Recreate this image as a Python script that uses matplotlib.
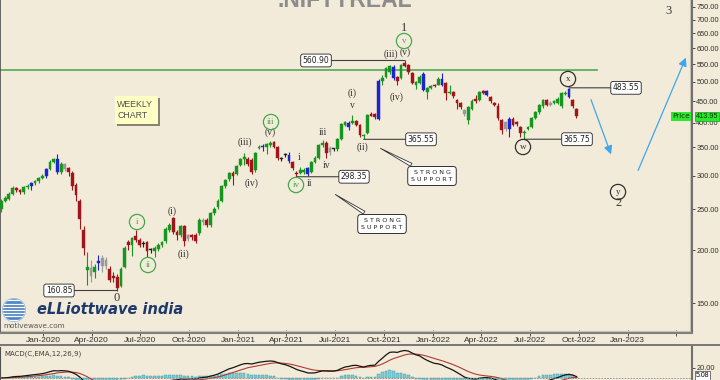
import matplotlib
matplotlib.use("Agg")
import matplotlib.pyplot as plt
import matplotlib.patches as mpatches
import numpy as np
import pandas as pd

# weekly candles of .NIFTYREAL, mid Oct 2019 .. late Sep 2022
start_week = "2019-10-15"
opens = [250, 262, 265, 272, 280, 277, 274, 282, 284, 288,
         291, 296, 300, 311, 324, 328, 306, 320, 313, 305,
         285, 262, 224, 180, 182, 178, 187, 184, 190, 181,
         174, 173, 165, 183, 209, 206, 216, 212, 207, 209,
         200, 199, 201, 206, 210, 223, 238, 221, 217, 228,
         213, 217, 217, 220, 236, 236, 229, 245, 253, 262,
         283, 294, 304, 303, 318, 329, 329, 326, 309, 349,
         351, 350, 354, 360, 350, 328, 336, 336, 323, 305,
         305, 306, 313, 306, 323, 331, 355, 358, 348, 346,
         346, 367, 396, 400, 400, 404, 395, 372, 378, 420,
         419, 408, 503, 512, 526, 540, 512, 509, 553, 546,
         525, 492, 497, 522, 472, 484, 490, 492, 508, 497,
         470, 472, 453, 446, 429, 406, 431, 456, 453, 474,
         474, 461, 446, 438, 406, 401, 387, 408, 402, 390,
         378, 386, 390, 410, 423, 437, 453, 446, 445, 446,
         437, 468, 481, 453, 431]
highs = [265, 268, 274, 283, 282, 279, 284, 287, 290, 293,
         298, 303, 313, 326, 331, 337, 324, 322, 315, 307,
         288, 264, 228, 198, 190, 186, 195, 195, 193, 184,
         178, 176, 183, 205, 212, 215, 224, 214, 210, 211,
         203, 205, 208, 211, 227, 232, 240, 223, 230, 229,
         219, 219, 220, 238, 238, 238, 246, 253, 264, 285,
         295, 306, 308, 318, 330, 340, 332, 330, 342, 354,
         356, 358, 362, 362, 352, 332, 340, 342, 325, 308,
         314, 312, 315, 325, 334, 356, 364, 362, 352, 349,
         368, 399, 404, 403, 418, 406, 397, 376, 420, 424,
         421, 506, 518, 541, 548, 546, 515, 550, 560.9, 550,
         527, 503, 518, 528, 487, 490, 493, 512, 525, 500,
         490, 476, 456, 448, 432, 438, 454, 466, 476, 477,
         478, 463, 448, 446, 408, 404, 412, 413, 404, 393,
         384, 393, 412, 426, 444, 456, 456, 449, 452, 460,
         473, 475, 483.55, 456, 433]
lows = [247, 260, 263, 270, 274, 271, 272, 279, 278, 286,
        289, 294, 296, 309, 322, 302, 302, 308, 300, 278,
        262, 225, 195, 166, 168, 172, 180, 178, 181, 168,
        168, 160.85, 164, 182, 200, 194, 209, 204, 204, 193,
        197, 193, 199, 204, 208, 221, 219, 212, 215, 205,
        210, 212, 208, 218, 230, 227, 227, 243, 251, 260,
        281, 292, 286, 301, 316, 318, 316, 303, 306, 346,
        344, 337, 350, 348, 326, 325, 332, 322, 310, 298.35,
        302, 303, 300, 304, 321, 329, 350, 330, 336, 343,
        344, 365, 393, 385, 398, 393, 371, 365.55, 376, 414,
        408, 405, 490, 510, 522, 505, 490, 506, 540, 522,
        494, 480, 494, 475, 455, 480, 485, 490, 488, 453,
        468, 458, 430, 430, 416, 398, 428, 446, 450, 468,
        463, 445, 438, 406, 376, 382, 370, 392, 394, 370,
        365.75, 384, 388, 408, 420, 434, 437, 438, 443, 444,
        433, 466, 458, 434, 411]
closes = [262, 266, 272, 280, 277, 274, 282, 284, 288, 291,
          296, 300, 311, 324, 328, 306, 320, 311, 306, 283,
          270, 237, 203, 183, 174, 183, 188, 192, 184, 170,
          172, 163, 181, 203, 206, 214, 212, 206, 207, 199,
          200, 203, 206, 209, 225, 230, 221, 217, 228, 210,
          217, 215, 211, 236, 233, 229, 245, 251, 262, 283,
          293, 304, 300, 316, 328, 331, 320, 306, 340, 351,
          350, 356, 358, 350, 330, 328, 336, 325, 313, 303,
          309, 310, 302, 323, 331, 354, 358, 340, 341, 346,
          366, 397, 401, 390, 404, 396, 374, 373, 418, 416,
          412, 503, 510, 538, 543, 509, 501, 546, 544, 526,
          497, 499, 514, 479, 484, 486, 488, 508, 492, 470,
          473, 463, 446, 435, 420, 435, 451, 449, 472, 471,
          466, 449, 441, 410, 385, 386, 408, 395, 398, 378,
          380, 390, 410, 423, 441, 453, 441, 441, 449, 456,
          470, 470, 461, 437, 413.95]

resistance_level = 533
macd_last_label = 5.08
price_ticks = [150, 200, 250, 300, 350, 400, 450, 500, 550, 600, 650, 700, 750]
quarter_ticks = pd.date_range("2020-01-01", "2023-04-01", freq="QS")

# --- style -------------------------------------------------------------
BG = "#f3ebd9"
GREEN = "#16951f"
RED = "#a0141a"
BLUE = "#1c24d0"
GRAY = "#9a9a9a"
BLACK = "#202020"
WAVE_GREEN = "#46a84a"
blue_bars = {8, 12, 15, 26, 70, 77, 82, 93, 101, 105, 113, 118, 130, 136, 152}
gray_bars = {17, 24, 27, 28, 50, 54, 88, 124, 135, 147}
black_bars = {38, 40, 75, 76, 89}

W, H = 720, 380
PLOT_R = 692      # right edge of plot area, px
PRICE_B = 333     # bottom of price panel, px
Y_LO, Y_HI = 127.7, 779

dates = pd.date_range(start_week, periods=len(closes), freq="7D")
o = np.array(opens, float)
hi = np.array(highs, float)
lo = np.array(lows, float)
c = np.array(closes, float)

colors = []
for i in range(len(c)):
    if i in blue_bars:
        colors.append(BLUE)
    elif i in gray_bars:
        colors.append(GRAY)
    elif i in black_bars:
        colors.append(BLACK)
    else:
        colors.append(GREEN if c[i] >= o[i] else RED)

fig = plt.figure(figsize=(W / 100, H / 100), dpi=100, facecolor=BG)
ax = fig.add_axes([0, 1 - PRICE_B / H, PLOT_R / W, PRICE_B / H], facecolor=BG)


def px(x, y):
    # pixel position inside the price panel -> axes fraction
    return x / PLOT_R, 1 - y / PRICE_B


ax.vlines(dates, lo, hi, colors=colors, lw=0.8, zorder=3)
body_lo = np.minimum(o, c)
body_h = np.maximum(np.abs(c - o), body_lo * 0.007)
ax.bar(dates, body_h, bottom=body_lo, width=5.2, color=colors,
       edgecolor=colors, lw=0.3, zorder=4)

ax.set_yscale("log")
ax.set_ylim(Y_LO, Y_HI)
x_left = pd.Timestamp("2020-01-01") - pd.Timedelta(days=80.6)
x_right = pd.Timestamp("2020-01-01") + pd.Timedelta(days=1216.5)
ax.set_xlim(x_left, x_right)

ax.yaxis.tick_right()
ax.set_yticks(price_ticks)
ax.set_yticklabels([f"{v:.2f}" for v in price_ticks])
ax.yaxis.set_minor_locator(matplotlib.ticker.NullLocator())
ax.tick_params(axis="y", labelsize=5.3, length=2.5, width=0.6, pad=0.6,
               colors="#303030", direction="out")
ax.set_xticks(quarter_ticks)
ax.set_xticklabels([d.strftime("%b-%Y") for d in quarter_ticks[:-1]] + [""])
ax.tick_params(axis="x", labelsize=6, length=4, width=0.6, pad=1,
               colors="#303030", direction="inout")
for lab in ax.get_xticklabels() + ax.get_yticklabels():
    lab.set_family("Liberation Sans")
ax.spines["top"].set_visible(False)
ax.spines["left"].set_color("#505050")
ax.spines["left"].set_linewidth(1.2)
ax.spines["right"].set_color("#707070")
ax.spines["right"].set_linewidth(1.5)
ax.spines["bottom"].set_color("#808080")
ax.spines["bottom"].set_linewidth(1.5)
ax.plot([0, 1], [px(0, 331)[1]] * 2, transform=ax.transAxes, color="#c9c4b8", lw=0.8)
ax.plot([px(690, 0)[0]] * 2, [px(0, 331)[1], 1], transform=ax.transAxes, color="#c9c4b8", lw=0.8)

# resistance line
ax.axhline(resistance_level, xmin=0, xmax=597 / PLOT_R, color="#5fae5f", lw=1.3, zorder=2)

# price value boxes with leader lines
label_box = dict(boxstyle="round,pad=0.25,rounding_size=0.3", fc="white", ec="#202020", lw=0.6)
for idx, val, bx in [(31, lows[31], 59), (79, lows[79], 354), (97, lows[97], 421),
                     (108, highs[108], 316), (152, highs[152], 626), (140, lows[140], 577)]:
    ax.annotate(f"{val:.2f}", xy=(dates[idx], val), xytext=(bx / PLOT_R, val),
                textcoords=("axes fraction", "data"), ha="center", va="center",
                fontsize=5.5, family="DejaVu Sans", color="#202020", bbox=label_box,
                arrowprops=dict(arrowstyle="-", color="#404040", lw=0.8,
                                shrinkA=0, shrinkB=0), zorder=6)

# wave labels
serif = dict(family="Liberation Serif", color="#383838", ha="center", va="center")
for t, x, y, s in [("1", 404, 28, 9), ("(v)", 405, 52, 7), ("(iii)", 391, 54, 7),
                   ("(iv)", 397, 97, 7), ("(i)", 352, 93, 7), ("v", 352, 106, 7),
                   ("(ii)", 363, 147, 7), ("iii", 323, 133, 7), ("iv", 327, 165, 7),
                   ("i", 299, 158, 7), ("ii", 310, 183, 7), ("(v)", 270, 132, 7),
                   ("(iii)", 245, 142, 7), ("(iv)", 252, 183, 7), ("(i)", 172, 211, 7),
                   ("(ii)", 183, 254, 7), ("0", 117, 298, 9), ("2", 619, 203, 9),
                   ("3", 669, 11, 9)]:
    ax.text(*px(x, y), t, transform=ax.transAxes, fontsize=s, **serif)

for t, x, y, col in [("v", 404, 41, WAVE_GREEN), ("iii", 271, 122, WAVE_GREEN),
                     ("iv", 296, 185, WAVE_GREEN), ("i", 137, 222, WAVE_GREEN),
                     ("ii", 148, 265, WAVE_GREEN), ("x", 568, 79, "#303030"),
                     ("w", 523, 147, "#303030"), ("y", 618, 192, "#303030")]:
    ax.text(*px(x, y), t, transform=ax.transAxes, fontsize=6.5, family="Liberation Serif",
            color=col, ha="center", va="center", zorder=7,
            bbox=dict(boxstyle="circle,pad=0.4", fc="none", ec=col, lw=0.9))

# WEEKLY CHART note
ax.add_patch(mpatches.Rectangle(px(117, 126), 43 / PLOT_R, 28 / PRICE_B,
                                transform=ax.transAxes, fc="#8a8478", ec="none", zorder=5))
ax.add_patch(mpatches.Rectangle(px(115, 124), 43 / PLOT_R, 28 / PRICE_B,
                                transform=ax.transAxes, fc="#ffffc4", ec="none", zorder=6))
ax.text(*px(117, 110), "WEEKLY\nCHART", transform=ax.transAxes, fontsize=6.3,
        family="Liberation Sans", color="#505050", va="center", ha="left",
        linespacing=1.4, zorder=7)

# STRONG SUPPORT callouts
for bx, by, tx, ty in [(432, 176, 378, 147), (382, 224, 333, 193)]:
    ax.annotate("S T R O N G\nS U P P O R T", xy=px(tx, ty), xycoords="axes fraction",
                xytext=px(bx, by), textcoords="axes fraction", ha="center", va="center",
                fontsize=4.6, family="DejaVu Sans", color="#202020", linespacing=1.5,
                bbox=dict(boxstyle="round,pad=0.55,rounding_size=0.5", fc="white",
                          ec="#303030", lw=0.7),
                arrowprops=dict(arrowstyle="wedge,tail_width=0.5,shrink_factor=0.5",
                                fc="white", ec="#303030", lw=0.6), zorder=6)

# projection arrows
for (sx, sy), (ex, ey) in [((590, 97), (612, 157)), ((637, 173), (687, 55))]:
    ax.annotate("", xy=px(ex, ey), xycoords="axes fraction", xytext=px(sx, sy),
                textcoords="axes fraction",
                arrowprops=dict(arrowstyle="-|>,head_length=0.5,head_width=0.25",
                                color="#3ea6ee", lw=0.9))

# last price tag
last_y = 1 - (np.log(Y_HI) - np.log(c[-1])) / (np.log(Y_HI) - np.log(Y_LO))
ax.text(681 / PLOT_R, last_y, "Price", transform=ax.transAxes, fontsize=5.2,
        family="DejaVu Sans", ha="center", va="center", color="#103010",
        bbox=dict(boxstyle="square,pad=0.15", fc="#2bea2b", ec="none"))
ax.text(1.006, last_y, f"{c[-1]:.2f}", transform=ax.transAxes, fontsize=5.2,
        family="Liberation Sans", ha="left", va="center", color="#103010", clip_on=False,
        bbox=dict(boxstyle="square,pad=0.12", fc="#2bea2b", ec="#1a9a1a", lw=0.5))

# title, partly above the figure like the screenshot
fig.text(345 / W, 1 - 7 / H, ".NIFTYREAL", fontsize=16.5, fontweight="bold",
         family="Liberation Sans", color="#8c8c8c", ha="center", va="baseline")

# logo
lax = fig.add_axes([2 / W, 1 - 322 / H, 24 / W, 24 / H])
lax.set_xlim(-1, 1)
lax.set_ylim(-1, 1)
lax.axis("off")
globe = mpatches.Circle((0, 0), 0.95, fc="#4f86c4", ec="#9cc0e4", lw=1)
lax.add_patch(globe)
for yy in np.linspace(-0.8, 0.8, 7):
    ln, = lax.plot([-1, 1], [yy, yy], color="white", lw=0.9)
    ln.set_clip_path(globe)
fig.text(37 / W, 1 - 310 / H, "eLLiottwave india", fontsize=10.5, fontweight="bold",
         fontstyle="italic", family="DejaVu Sans", color="#1f3a6a", va="center")
fig.text(3 / W, 1 - 326 / H, "motivewave.com", fontsize=5.2, family="DejaVu Sans",
         color="#555555", va="center")

# separator between panels
fig.add_artist(mpatches.Rectangle((0, 1 - 346 / H), 1, 2.5 / H, transform=fig.transFigure,
                                  fc="#7a7a7a", ec="none"))

# MACD panel
s = pd.Series(c)
macd = s.ewm(span=12, adjust=False).mean() - s.ewm(span=26, adjust=False).mean()
signal = macd.ewm(span=9, adjust=False).mean()
hist = macd - signal

mx = fig.add_axes([0, 0, PLOT_R / W, 33.5 / H], facecolor=BG)
mx.bar(dates, hist, width=5.0, color="#7cd0dc", edgecolor="#3c8f9c", lw=0.3)
mx.plot(dates, signal, color="#b03a34", lw=0.8)
mx.plot(dates, macd, color="#151515", lw=0.9)
mx.axhline(0, color="#909090", lw=0.6, ls=(0, (2, 1.5)))
mx.set_xlim(x_left, x_right)
mx.set_ylim(-3.75, 60)
mx.set_xticks([])
mx.yaxis.tick_right()
mx.set_yticks([20])
mx.set_yticklabels(["20.00"])
mx.tick_params(axis="y", labelsize=5.3, length=2.5, width=0.6, pad=0.6, colors="#303030")
for lab in mx.get_yticklabels():
    lab.set_family("Liberation Sans")
for side in ["top", "bottom"]:
    mx.spines[side].set_visible(False)
mx.spines["left"].set_color("#505050")
mx.spines["right"].set_color("#707070")
mx.spines["right"].set_linewidth(1.5)
mx.text(0.007, 0.78, "MACD(C,EMA,12,26,9)", transform=mx.transAxes, fontsize=5,
        family="DejaVu Sans", color="#404040", va="center")
mx.text(1.006, 0.13, f"{macd_last_label:.2f}", transform=mx.transAxes, fontsize=5,
        family="Liberation Sans", ha="left", va="center", clip_on=False,
        bbox=dict(boxstyle="square,pad=0.1", fc="white", ec="#404040", lw=0.5))

fig.savefig("out.png", dpi=100, facecolor=BG)
